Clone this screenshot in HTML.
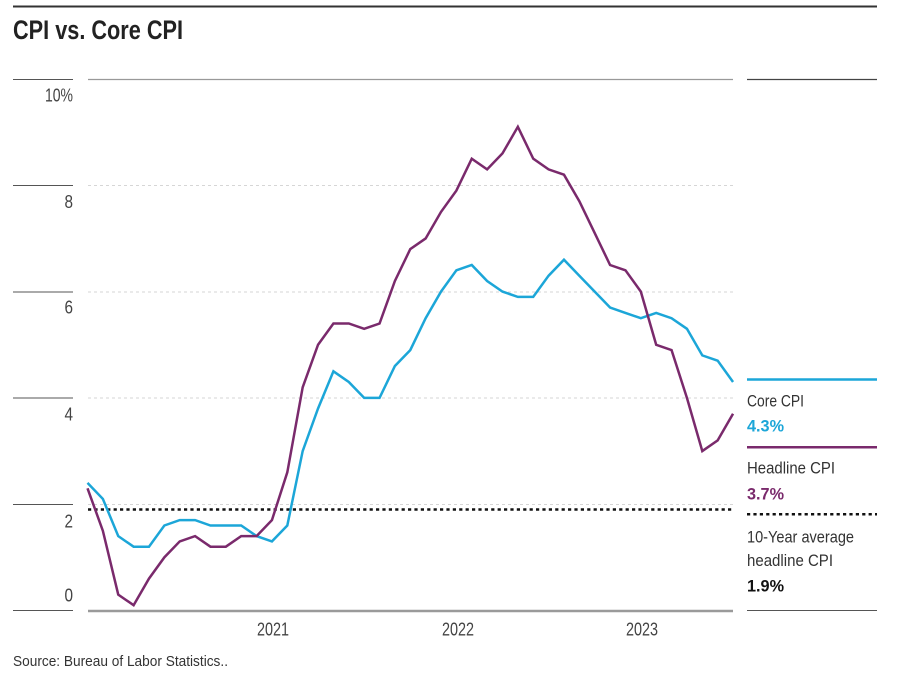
<!DOCTYPE html>
<html>
<head>
<meta charset="utf-8">
<style>
  html, body { margin: 0; padding: 0; background: #ffffff; }
  svg { display: block; }
  text { font-family: "Liberation Sans Narrow", "Liberation Sans", sans-serif; }
</style>
</head>
<body>
<svg width="907" height="686" viewBox="0 0 907 686" xmlns="http://www.w3.org/2000/svg">
  <rect x="0" y="0" width="907" height="686" fill="#ffffff"/>

  <!-- top rule -->
  <line x1="13" y1="6.5" x2="877" y2="6.5" stroke="#333" stroke-width="2"/>

  <!-- title -->
  <text x="13" y="39" font-size="27" font-weight="bold" fill="#222" textLength="170" lengthAdjust="spacingAndGlyphs">CPI vs. Core CPI</text>

  <!-- left tick lines -->
  <g stroke="#555" stroke-width="1">
    <line x1="13" y1="79.5" x2="73" y2="79.5"/>
    <line x1="13" y1="185.5" x2="73" y2="185.5"/>
    <line x1="13" y1="292" x2="73" y2="292"/>
    <line x1="13" y1="398" x2="73" y2="398"/>
    <line x1="13" y1="504.5" x2="73" y2="504.5"/>
    <line x1="13" y1="610.5" x2="73" y2="610.5"/>
  </g>

  <!-- tick labels -->
  <g font-size="18" fill="#444" text-anchor="end">
    <text x="73" y="101.5" textLength="28" lengthAdjust="spacingAndGlyphs">10%</text>
    <text x="73" y="208" textLength="8.5" lengthAdjust="spacingAndGlyphs">8</text>
    <text x="73" y="313.5" textLength="8.5" lengthAdjust="spacingAndGlyphs">6</text>
    <text x="73" y="420.5" textLength="8.5" lengthAdjust="spacingAndGlyphs">4</text>
    <text x="73" y="527.3" textLength="8.5" lengthAdjust="spacingAndGlyphs">2</text>
    <text x="73" y="601.7" textLength="8.5" lengthAdjust="spacingAndGlyphs">0</text>
  </g>

  <!-- plot top line -->
  <line x1="88" y1="79.5" x2="733" y2="79.5" stroke="#999" stroke-width="1.3"/>

  <!-- gridlines -->
  <g stroke="#d6d6d6" stroke-width="1" stroke-dasharray="3 3">
    <line x1="88" y1="185.5" x2="733" y2="185.5"/>
    <line x1="88" y1="292" x2="733" y2="292"/>
    <line x1="88" y1="398" x2="733" y2="398"/>
    <line x1="88" y1="504.5" x2="733" y2="504.5"/>
  </g>

  <!-- baseline -->
  <line x1="88" y1="611" x2="733" y2="611" stroke="#9a9a9a" stroke-width="2.5"/>

  <!-- 10-year average dotted -->
  <line x1="88" y1="509.5" x2="733" y2="509.5" stroke="#111" stroke-width="2.5" stroke-dasharray="3.2 3.2"/>

  <!-- Core CPI -->
  <polyline fill="none" stroke="#1ca6d8" stroke-width="2.5" stroke-linejoin="miter"
    points="87.5,482.9 102.87,498.9 118.24,536.1 133.61,546.7 148.98,546.7 164.35,525.5 179.72,520.1 195.09,520.1 210.46,525.5 225.83,525.5 241.2,525.5 256.57,536.1 271.94,541.4 287.31,525.5 302.68,451.05 318.05,408.5 333.42,371.3 348.79,382.0 364.16,397.9 379.53,397.9 394.9,366.0 410.27,350.1 425.64,318.2 441.01,291.6 456.38,270.3 471.75,265.0 487.12,281.0 502.49,291.6 517.86,296.9 533.23,296.9 548.6,275.7 563.97,259.7 579.34,275.7 594.71,291.6 610.08,307.5 625.45,312.9 640.82,318.2 656.19,312.9 671.56,318.2 686.93,328.8 702.3,355.4 717.67,360.7 733.04,382.0"/>

  <!-- Headline CPI -->
  <polyline fill="none" stroke="#7a2a6c" stroke-width="2.5" stroke-linejoin="miter"
    points="87.5,488.3 102.87,530.8 118.24,594.6 133.61,605.2 148.98,578.6 164.35,557.35 179.72,541.4 195.09,536.1 210.46,546.7 225.83,546.7 241.2,536.1 256.57,536.1 271.94,520.1 287.31,472.3 302.68,387.3 318.05,344.75 333.42,323.5 348.79,323.5 364.16,328.8 379.53,323.5 394.9,281.0 410.27,249.1 425.64,238.45 441.01,211.9 456.38,190.6 471.75,158.7 487.12,169.4 502.49,153.4 517.86,126.8 533.23,158.7 548.6,169.4 563.97,174.7 579.34,201.2 594.71,233.1 610.08,265.0 625.45,270.3 640.82,291.6 656.19,344.75 671.56,350.1 686.93,397.9 702.3,451.05 717.67,440.4 733.04,413.8"/>

  <!-- x labels -->
  <g font-size="18" fill="#444" text-anchor="middle">
    <text x="273" y="635.5" textLength="32" lengthAdjust="spacingAndGlyphs">2021</text>
    <text x="458" y="635.5" textLength="32" lengthAdjust="spacingAndGlyphs">2022</text>
    <text x="642" y="635.5" textLength="32" lengthAdjust="spacingAndGlyphs">2023</text>
  </g>

  <!-- right legend panel -->
  <line x1="747" y1="79.5" x2="877" y2="79.5" stroke="#444" stroke-width="1.3"/>
  <line x1="747" y1="379.5" x2="877" y2="379.5" stroke="#1ca6d8" stroke-width="2.5"/>
  <text x="747" y="406.5" font-size="17" fill="#333" textLength="57" lengthAdjust="spacingAndGlyphs">Core CPI</text>
  <text x="747" y="431.5" font-size="17" font-weight="bold" fill="#1ca6d8" textLength="37" lengthAdjust="spacingAndGlyphs">4.3%</text>

  <line x1="747" y1="447.3" x2="877" y2="447.3" stroke="#7a2a6c" stroke-width="2.5"/>
  <text x="747" y="473.3" font-size="17" fill="#333" textLength="88" lengthAdjust="spacingAndGlyphs">Headline CPI</text>
  <text x="747" y="499.3" font-size="17" font-weight="bold" fill="#7a2a6c" textLength="37" lengthAdjust="spacingAndGlyphs">3.7%</text>

  <line x1="747" y1="514.3" x2="877" y2="514.3" stroke="#111" stroke-width="2.5" stroke-dasharray="3.2 3.2"/>
  <text x="747" y="542.7" font-size="17" fill="#333" textLength="107" lengthAdjust="spacingAndGlyphs">10-Year average</text>
  <text x="747" y="566" font-size="17" fill="#333" textLength="86" lengthAdjust="spacingAndGlyphs">headline CPI</text>
  <text x="747" y="591.7" font-size="17" font-weight="bold" fill="#111" textLength="37" lengthAdjust="spacingAndGlyphs">1.9%</text>

  <line x1="747" y1="610.5" x2="877" y2="610.5" stroke="#555" stroke-width="1"/>

  <!-- source -->
  <text x="13" y="666" font-size="15" fill="#333" textLength="215" lengthAdjust="spacingAndGlyphs">Source: Bureau of Labor Statistics..</text>
</svg>
</body>
</html>
